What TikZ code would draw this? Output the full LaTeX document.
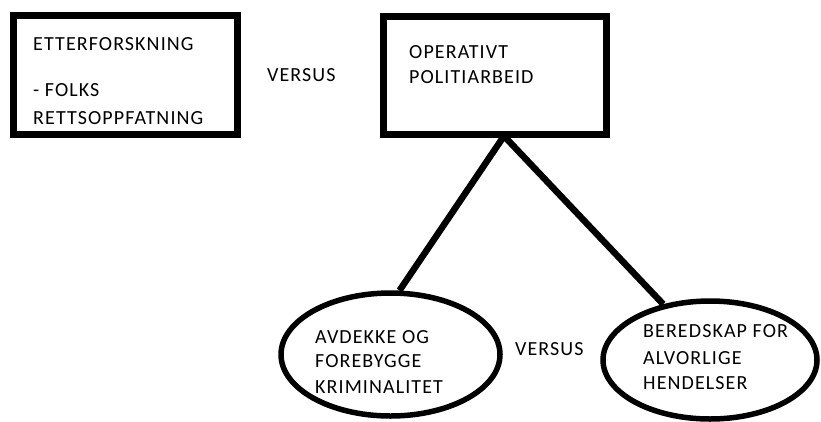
\documentclass[tikz,border=0pt]{standalone}
\usepackage{fontspec}
\setmainfont{Carlito}[LetterSpace=5.5]
\usetikzlibrary{shapes.geometric}
\tikzset{
    box/.style={draw, line width=6.5pt, inner sep=0pt},
    oval/.style={draw, ellipse, line width=5.5pt, inner sep=0pt},
    txt/.style={anchor=base west, inner sep=0pt, align=left, font=\fontsize{20}{25}\selectfont},
    link/.style={line width=6.5pt}
}

\begin{document}
\begin{tikzpicture}[x=1pt, y=-1pt]
    \useasboundingbox(0, 0)rectangle(821, 421);
    % boxes
    \node[box, minimum width=224pt, minimum height=119pt](etter)at(125.5, 75){};
    \node[box, minimum width=223pt, minimum height=118pt](operativt)at(495, 75.5){};
    % ovals
    \node[oval, minimum width=219pt, minimum height=123pt](avdekke)at(390.5, 354.5){};
    \node[oval, minimum width=214pt, minimum height=118pt](beredskap)at(710, 360){};
    % texts (placed at the baseline of their last line)
    \node[txt](etterTxt)at(33, 124){ETTERFORSKNING\\[21pt]- FOLKS\\[3pt]RETTSOPPFATNING};
    \node[txt](operativtTxt)at(409, 83){OPERATIVT\\POLITIARBEID};
    \node[txt](avdekkeTxt)at(315, 393){AVDEKKE OG\\[-1pt]FOREBYGGE\\[1pt]KRIMINALITET};
    \node[txt](beredskapTxt)at(643, 389){BEREDSKAP FOR\\[2pt]ALVORLIGE\\HENDELSER};
    \node[txt](versusTop)at(267, 81){VERSUS};
    \node[txt](versusBottom)at(515, 355){VERSUS};
    % links
    \coordinate(apex)at(504, 136);
    \draw[link](apex)--(avdekke.82);
    \draw[link](apex)--(beredskap.130);
\end{tikzpicture}
\end{document}
